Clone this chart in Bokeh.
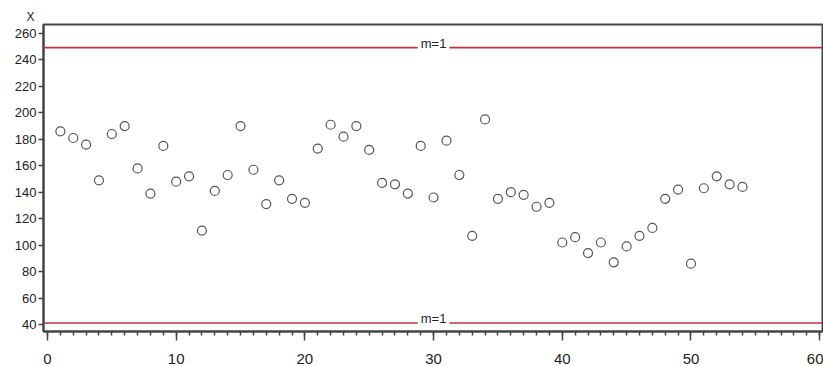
from bokeh.plotting import figure
from bokeh.models import Span, Label, FixedTicker, SingleIntervalTicker, Range1d
from bokeh.embed import file_html
from bokeh.resources import INLINE

# ---- data ----
obs = list(range(1, 55))
x_values = [186, 181, 176, 149, 184, 190, 158, 139, 175, 148,
            152, 111, 141, 153, 190, 157, 131, 149, 135, 132,
            173, 191, 182, 190, 172, 147, 146, 139, 175, 136,
            179, 153, 107, 195, 135, 140, 138, 129, 132, 102,
            106, 94, 102, 87, 99, 107, 113, 135, 142, 86,
            143, 152, 146, 144]
limits = [249.3, 41.1]
limit_labels = ["m=1", "m=1"]
limit_label_pos = 30
y_ticks = [40, 60, 80, 100, 120, 140, 160, 180, 200, 220, 240, 260]
y_title = "X"

FONT = "Liberation Sans"
TXT = "#222222"

p = figure(width=823, height=366, output_backend="svg", toolbar_location=None,
           x_range=Range1d(-0.31, 60.22), y_range=Range1d(34.7, 266.8),
           min_border_left=43, min_border_right=1, min_border_top=24,
           min_border_bottom=35)
p.background_fill_color = "white"
p.border_fill_color = "white"
p.outline_line_color = "#444444"
p.outline_line_width = 2
p.xgrid.visible = False
p.ygrid.visible = False

# title "X" above the y axis
p.title.text = y_title
p.title.align = "left"
p.title.offset = -17
p.title.standoff = 2
p.title.text_font = FONT
p.title.text_font_size = "12px"
p.title.text_font_style = "normal"
p.title.text_color = TXT

# x axis
p.xaxis.ticker = SingleIntervalTicker(interval=10, num_minor_ticks=10)
p.xaxis.major_tick_out = 9
p.xaxis.major_tick_in = 0
p.xaxis.minor_tick_out = 4
p.xaxis.minor_tick_in = 0
p.xaxis.major_label_standoff = 13
p.xaxis.major_label_text_font = FONT
p.xaxis.major_label_text_font_size = "15px"
p.xaxis.major_label_text_color = TXT
p.xaxis.axis_line_color = "#444444"
p.xaxis.axis_line_width = 2
p.xaxis.major_tick_line_color = "#444444"
p.xaxis.major_tick_line_width = 1.5
p.xaxis.minor_tick_line_color = "#444444"
p.xaxis.minor_tick_line_width = 1.5

# y axis
p.yaxis.ticker = FixedTicker(ticks=y_ticks)
p.yaxis.major_tick_out = 5
p.yaxis.major_tick_in = 0
p.yaxis.minor_tick_out = 0
p.yaxis.minor_tick_in = 0
p.yaxis.major_label_standoff = 2
p.yaxis.major_label_text_font = FONT
p.yaxis.major_label_text_font_size = "13px"
p.yaxis.major_label_text_color = TXT
p.yaxis.axis_line_color = "#444444"
p.yaxis.axis_line_width = 2
p.yaxis.major_tick_line_color = "#444444"
p.yaxis.major_tick_line_width = 1.5

# control limit lines
for lv, lt in zip(limits, limit_labels):
    p.add_layout(Span(location=lv, dimension="width", line_color="#c0303c",
                      line_width=1.6))
    p.add_layout(Label(x=limit_label_pos, y=lv, text=lt, text_align="center",
                       text_baseline="bottom", y_offset=-6, text_font=FONT,
                       text_font_size="13px", text_color=TXT,
                       background_fill_color="white", border_line_color=None,
                       padding=3))

# data points
p.scatter(obs, x_values, marker="circle", size=9, fill_color=None,
          line_color="#555555", line_width=1.2)

open("out.html", "w").write(file_html(p, INLINE))
